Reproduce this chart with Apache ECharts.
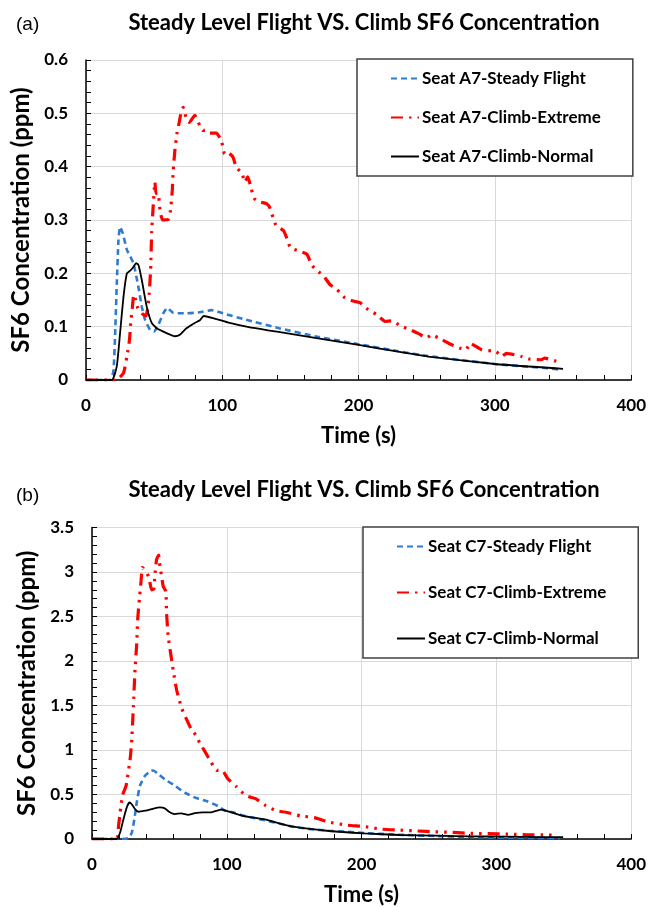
<!DOCTYPE html>
<html><head><meta charset="utf-8">
<script src="https://cdn.jsdelivr.net/npm/echarts@6/dist/echarts.min.js"></script>
<style>html,body{margin:0;padding:0;background:#fff}#c{width:649px;height:907px}</style>
</head><body><div id="c"></div>
<script>
// ---- data (a) Seat A7 ----
const aSteadyT = [0,18,20.2,21.4,22.6,23.8,25,27,30,34.8,38.4,40.9,43.3,47,49.9,53,56.7,59.6,64,73.7,83.5,92,100.5,117.5,141.8,168,200,229,251,300,339,349];
const aSteadyV = [0,0,0.019,0.088,0.181,0.262,0.287,0.275,0.244,0.219,0.175,0.138,0.113,0.094,0.091,0.103,0.125,0.135,0.126,0.125,0.127,0.131,0.125,0.113,0.097,0.082,0.067,0.054,0.045,0.030,0.022,0.019];
const aExtremeT = [0,22,27.5,30,31.9,32.8,34.1,35,36.5,38,41,44,46,47.4,48.2,49.4,50.6,51.3,53,54.3,56.2,60.3,62,63.3,64,65.2,66.9,68.4,70,71.3,72.5,73.7,75.7,79.8,83.5,85.9,88.3,90.8,95.6,99.3,101.7,104,107.8,110.2,114.6,116.3,118.7,121.2,123.6,127.3,132.1,134.5,139.4,145,147.6,150,156,162,166,170.7,174.4,179,184,190,196,201,207,213,219.5,224,230.5,238,244,250,253.7,258.5,266,274,279,281.7,290,301,305,308.5,319.5,325.6,334,336.6,345];
const aExtremeV = [0,0,0.013,0.044,0.075,0.107,0.138,0.16,0.15,0.135,0.125,0.12,0.15,0.206,0.278,0.331,0.371,0.35,0.35,0.318,0.3,0.301,0.318,0.356,0.393,0.43,0.465,0.483,0.505,0.511,0.502,0.487,0.483,0.496,0.477,0.468,0.468,0.463,0.463,0.449,0.424,0.427,0.418,0.399,0.387,0.371,0.381,0.359,0.34,0.334,0.331,0.325,0.29,0.28,0.264,0.248,0.242,0.236,0.214,0.203,0.195,0.179,0.17,0.154,0.148,0.145,0.132,0.123,0.11,0.111,0.102,0.094,0.087,0.079,0.085,0.079,0.069,0.06,0.057,0.069,0.057,0.053,0.044,0.05,0.044,0.039,0.038,0.041,0.035];
const aNormalT = [0,19,22.6,25,27.5,30,32.4,34.8,36.7,38.4,40.9,44.5,48.2,51.8,59.1,65.2,68.9,73.7,79.8,83.5,86.4,93.2,105.4,119.5,139,168,200,229,251,300,339,350];
const aNormalV = [0,0,0.026,0.088,0.156,0.2,0.205,0.212,0.219,0.216,0.188,0.138,0.107,0.097,0.088,0.082,0.085,0.097,0.107,0.112,0.12,0.116,0.107,0.099,0.091,0.079,0.066,0.053,0.044,0.030,0.023,0.021];
// ---- data (b) Seat C7 ----
const cSteadyT = [0,22,27,29.5,31.4,33.2,35.6,39.3,43,45.5,49.1,54,61.4,68.8,77.4,86,93.4,98.3,104.4,113,128.3,138.8,149.3,162.5,175.7,188.8,202,228,254.7,281,307,333.7,347];
const cSteadyV = [0,0,0.01,0.07,0.22,0.41,0.6,0.71,0.76,0.77,0.73,0.67,0.6,0.52,0.46,0.42,0.37,0.32,0.3,0.26,0.21,0.175,0.138,0.11,0.093,0.082,0.067,0.048,0.033,0.022,0.015,0.011,0.01];
const cExtremeT = [0,18.4,19.7,20.9,22.6,25.3,28.3,29.5,30.7,31.9,33.2,33.9,35.1,36.4,37.3,38.1,40.5,42.5,44.2,45.9,46.6,47.9,49.4,50.4,51.6,52.8,54.8,55.3,56.5,58.3,60.2,62.7,64.6,66.8,70,73.7,77.4,79.9,83.5,88.5,92.4,96.7,100.6,107,113.8,117.7,121.7,128.3,136.2,144,154.6,165,175.7,188.8,202,215,228.3,241.5,254.7,267.8,281,294,307,323,336,344];
const cExtremeV = [0,0,0.15,0.3,0.49,0.6,0.9,1.12,1.49,1.9,2.2,2.47,2.69,2.9,3.05,3.04,3.0,2.92,2.8,2.81,2.95,3.14,3.19,3.06,2.96,2.84,2.78,2.54,2.28,2.09,1.9,1.68,1.57,1.46,1.35,1.23,1.16,1.08,0.99,0.86,0.77,0.77,0.68,0.59,0.49,0.47,0.45,0.38,0.32,0.3,0.26,0.24,0.19,0.156,0.14,0.11,0.1,0.09,0.08,0.074,0.063,0.06,0.056,0.048,0.045,0.041];
const cNormalT = [0,18.4,20.9,23.3,25.8,27.8,29.5,31.9,34.4,39.3,44.2,50.4,54,57.7,61.4,66.3,71.3,76.2,82.3,88.5,95.8,103.2,111.8,128.3,138.8,149.3,175.7,202,228,254.7,281,307,333.7,349.5];
const cNormalV = [0,0,0.075,0.22,0.355,0.41,0.39,0.336,0.306,0.318,0.336,0.355,0.344,0.3,0.28,0.288,0.27,0.29,0.3,0.3,0.33,0.3,0.26,0.22,0.175,0.138,0.09,0.063,0.045,0.037,0.03,0.026,0.022,0.022];

const namesA = ['Seat A7-Steady Flight','Seat A7-Climb-Extreme','Seat A7-Climb-Normal'];
const namesB = ['Seat C7-Steady Flight','Seat C7-Climb-Extreme','Seat C7-Climb-Normal'];
const xTicks = [0,100,200,300,400];
const yTicksA = [0,0.1,0.2,0.3,0.4,0.5,0.6];
const yTicksB = [0,0.5,1,1.5,2,2.5,3,3.5];
const chartTitle = 'Steady Level Flight VS. Climb SF6 Concentration';
const xName = 'Time (s)';
const yName = 'SF6 Concentration (ppm)';

const zip = (t, v) => t.map((x, i) => [x, v[i]]);
const FONT = 'Lato';
const BLUE = '#2E7BCF', RED = '#FF0000', BLACK = '#000000';
const styles = [
  {color: BLUE, width: 2.6, type: [6, 4]},
  {color: RED, width: 3.2, type: [12, 6, 2.5, 6, 2.5, 6]},
  {color: BLACK, width: 1.8, type: 'solid'}
];

function xAxis(gi) {
  return {
    type: 'value', gridIndex: gi, min: xTicks[0], max: xTicks[xTicks.length-1], interval: 100,
    name: xName, nameLocation: 'middle', nameGap: 45,
    nameTextStyle: {fontFamily: FONT, fontWeight: 'bold', fontSize: 22, color: '#000'},
    axisLine: {lineStyle: {color: '#000', width: 1.5}},
    axisTick: {inside: true, length: 5, lineStyle: {color: '#000', width: 1}},
    minorTick: {show: true, splitNumber: 5, length: 5, lineStyle: {color: '#000', width: 1}},
    axisLabel: {fontFamily: FONT, fontWeight: 'bold', fontSize: 17, color: '#000', margin: 17},
    splitLine: {show: true, lineStyle: {color: '#d9d9d9', width: 1}}
  };
}
function yAxis(gi, ticks) {
  return {
    type: 'value', gridIndex: gi, min: ticks[0], max: ticks[ticks.length-1], interval: ticks[1]-ticks[0],
    name: yName, nameLocation: 'middle', nameGap: 38,
    nameTextStyle: {fontFamily: FONT, fontWeight: 'bold', fontSize: 24, color: '#000'},
    axisLine: {show: true, lineStyle: {color: '#000', width: 1.5}},
    axisTick: {show: true, inside: true, length: 5, lineStyle: {color: '#000', width: 1}},
    minorTick: {show: true, splitNumber: 5, length: 5, lineStyle: {color: '#000', width: 1}},
    axisLabel: {fontFamily: FONT, fontWeight: 'bold', fontSize: 17, color: '#000', margin: 18,
      formatter: v => String(+v.toFixed(2))},
    splitLine: {show: true, lineStyle: {color: '#d9d9d9', width: 1}}
  };
}
function series(name, data, gi, st) {
  return {
    name, type: 'line', xAxisIndex: gi, yAxisIndex: gi, data, symbol: 'none', smooth: 0.15,
    lineStyle: {color: st.color, width: st.width, type: st.type},
    itemStyle: {color: st.color}, animation: false
  };
}
function legend(names, left, top, gap) {
  return {
    data: names.map(n => ({name: n, itemStyle: {opacity: 0}})),
    orient: 'vertical', left, top, itemWidth: 28, itemHeight: 14, itemGap: gap,
    padding: [11, 32, 11, 33], borderColor: '#404040', borderWidth: 1.5, backgroundColor: '#fff',
    textStyle: {fontFamily: FONT, fontWeight: 'bold', fontSize: 17, color: '#000', padding: [0,0,0,-2]}
  };
}

const chart = echarts.init(document.getElementById('c'), null, {renderer: 'canvas'});
chart.setOption({
  animation: false,
  backgroundColor: '#fff',
  title: [
    {text: '(a)', left: 11, top: 10, textStyle: {fontFamily: 'Liberation Sans', fontWeight: 'normal', fontSize: 19, color: '#000'}},
    {text: chartTitle, left: 359, top: 7, textAlign: 'center', textStyle: {fontFamily: FONT, fontWeight: 'bold', fontSize: 22, color: '#000'}},
    {text: '(b)', left: 11, top: 481, textStyle: {fontFamily: 'Liberation Sans', fontWeight: 'normal', fontSize: 19, color: '#000'}},
    {text: chartTitle, left: 359, top: 474, textAlign: 'center', textStyle: {fontFamily: FONT, fontWeight: 'bold', fontSize: 22, color: '#000'}}
  ],
  grid: [
    {left: 86, top: 60, width: 548, height: 320},
    {left: 92, top: 527.5, width: 542, height: 312.5}
  ],
  xAxis: [xAxis(0), xAxis(1)],
  yAxis: [yAxis(0, yTicksA), yAxis(1, yTicksB)],
  legend: [legend(namesA, 357, 59, 22), legend(namesB, 363, 527, 29)],
  series: [
    series(namesA[0], zip(aSteadyT, aSteadyV), 0, styles[0]),
    series(namesA[1], zip(aExtremeT, aExtremeV), 0, styles[1]),
    series(namesA[2], zip(aNormalT, aNormalV), 0, styles[2]),
    series(namesB[0], zip(cSteadyT, cSteadyV), 1, styles[0]),
    series(namesB[1], zip(cExtremeT, cExtremeV), 1, styles[1]),
    series(namesB[2], zip(cNormalT, cNormalV), 1, styles[2])
  ]
});
</script></body></html>
